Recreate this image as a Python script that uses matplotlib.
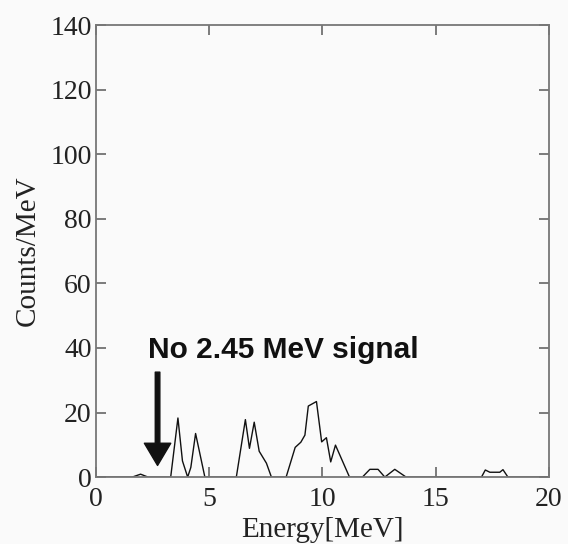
import matplotlib
matplotlib.use("Agg")
import matplotlib.pyplot as plt

# spectrum data (Energy in MeV, Counts/MeV)
energy = [0, 1.6, 1.97, 2.3, 3.3, 3.62, 3.82, 4.05, 4.19, 4.4, 4.81,
          6.2, 6.6, 6.78, 6.99, 7.21, 7.53, 7.75, 8.4, 8.8, 9.05, 9.23,
          9.38, 9.74, 9.97, 10.18, 10.37, 10.58, 11.2, 11.77, 12.1, 12.46,
          12.76, 13.2, 13.7, 17.03, 17.2, 17.4, 17.84, 17.98, 18.2, 20]
counts = [0, 0, 0.9, 0, 0, 18.3, 5.0, 0, 3.0, 13.5, 0,
          0, 17.8, 8.9, 17.0, 8.0, 4.3, 0, 0, 9.2, 10.8, 13.0,
          22.0, 23.4, 10.9, 12.2, 4.7, 9.9, 0, 0, 2.4, 2.4,
          0, 2.4, 0, 0, 2.2, 1.5, 1.5, 2.3, 0, 0]

xticks = [0, 5, 10, 15, 20]
yticks = [0, 20, 40, 60, 80, 100, 120, 140]

serif = ['Liberation Serif', 'DejaVu Serif']

fig = plt.figure(figsize=(5.68, 5.44), dpi=100, facecolor='#fafafa')
ax = fig.add_axes([0.169, 0.123, 0.797, 0.831])
ax.set_facecolor('#fafafa')

ax.plot(energy, counts, color='#111111', lw=1.0)

ax.set_xlim(0, 20)
ax.set_ylim(0, 140)
ax.set_xticks(xticks)
ax.set_yticks(yticks)
ax.tick_params(direction='in', length=7, width=1.2, color='#666666',
               top=True, right=True, labelsize=20, pad=7)
ax.tick_params(axis='y', pad=3)
for lab in ax.get_xticklabels() + ax.get_yticklabels():
    lab.set_family(serif)
    lab.set_color('#222222')
for sp in ax.spines.values():
    sp.set_color('#777777')
    sp.set_linewidth(1.3)

ax.set_xlabel('Energy[MeV]', fontsize=21, family=serif, color='#222222', labelpad=4)
ax.set_ylabel('Counts/MeV', fontsize=21, family=serif, color='#222222', labelpad=7)

ax.text(2.28, 39.3, 'No 2.45 MeV signal', fontsize=21.5, fontweight='bold',
        family=['Liberation Sans', 'DejaVu Sans'], ha='left', va='center', color='#111111')
ax.annotate('', xy=(2.72, 3.6), xytext=(2.72, 32.5),
            arrowprops=dict(width=3.3, headwidth=19, headlength=16,
                            facecolor='#111111', edgecolor='#111111'))

fig.savefig('out.png', dpi=100, facecolor=fig.get_facecolor())
